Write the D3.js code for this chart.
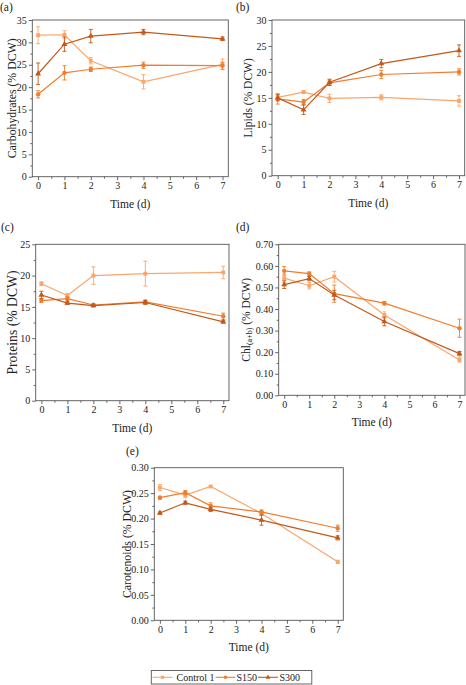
<!DOCTYPE html>
<html>
<head>
<meta charset="utf-8">
<script src="https://cdn.jsdelivr.net/npm/d3@7"></script>
<style>
  body { margin: 0; background: #fff; }
  svg, svg text { font-family: "Times New Roman", "Liberation Serif", Times, "DejaVu Serif", serif !important; }
</style>
</head>
<body>
<script>
// Sampling days (x) shared by all panels
const days = [0, 1, 2, 4, 7];
const seriesNames = ["Control 1", "S150", "S300"];

// (a) Carbohydrates (% DCW): means and error bars
const carbControl = [31.6, 31.7, 25.9, 21.2, 25.1];
const carbControlErr = [1.9, 0.9, 0.7, 1.6, 1.2];
const carbS150 = [18.4, 23.2, 24.0, 24.9, 24.8];
const carbS150Err = [0.8, 1.6, 0.5, 0.7, 0.8];
const carbS300 = [23.0, 29.6, 31.4, 32.3, 30.8];
const carbS300Err = [2.4, 1.6, 1.5, 0.6, 0.4];

// (b) Lipids (% DCW)
const lipControl = [15.1, 16.1, 14.9, 15.1, 14.4];
const lipControlErr = [0.5, 0.2, 0.8, 0.5, 1.0];
const lipS150 = [14.8, 14.2, 17.9, 19.5, 20.0];
const lipS150Err = [1.0, 0.5, 0.5, 0.8, 0.6];
const lipS300 = [15.0, 12.7, 18.0, 21.6, 24.1];
const lipS300Err = [0.6, 0.9, 0.6, 0.8, 1.1];

// (c) Proteins (% DCW)
const protControl = [18.7, 16.8, 20.0, 20.3, 20.5];
const protControlErr = [0.3, 0.3, 1.4, 2.0, 1.0];
const protS150 = [16.0, 16.3, 15.3, 15.8, 13.5];
const protS150Err = [0.3, 0.3, 0.2, 0.3, 0.5];
const protS300 = [16.9, 15.6, 15.2, 15.7, 12.6];
const protS300Err = [0.6, 0.2, 0.2, 0.3, 0.2];

// (d) Chl(a+b) (% DCW)
const chlControl = [0.543, 0.508, 0.550, 0.372, 0.164];
const chlControlErr = [0.02, 0.015, 0.025, 0.015, 0.01];
const chlS150 = [0.577, 0.564, 0.471, 0.427, 0.311];
const chlS150Err = [0.02, 0.008, 0.04, 0.008, 0.042];
const chlS300 = [0.513, 0.541, 0.465, 0.342, 0.193];
const chlS300Err = [0.018, 0.01, 0.022, 0.02, 0.01];

// (e) Carotenoids (% DCW)
const carControl = [0.261, 0.246, 0.263, 0.210, 0.115];
const carControlErr = [0.006, 0.005, 0.002, 0.004, 0.003];
const carS150 = [0.241, 0.251, 0.225, 0.213, 0.181];
const carS150Err = [0.003, 0.004, 0.006, 0.004, 0.006];
const carS300 = [0.211, 0.231, 0.218, 0.197, 0.162];
const carS300Err = [0.002, 0.003, 0.004, 0.01, 0.004];

const colors = ["#f9a66c", "#f07d2c", "#c2591b"];
const shapes = [d3.symbolSquare, d3.symbolCircle, d3.symbolTriangle];
const axisColor = "#555";
const serif = "'Times New Roman', 'Liberation Serif', Times, serif";

const panels = [
  { tag: "(a)", ylab: "Carbohydrates (% DCW)", ymax: 35, step: 5, fmt: "d", fs: 11.8,
    box: [32.3, 228.3, 20, 176.7], ytitleX: 12, labelPos: [0, 11],
    means: [carbControl, carbS150, carbS300], errs: [carbControlErr, carbS150Err, carbS300Err] },
  { tag: "(b)", ylab: "Lipids (% DCW)", ymax: 30, step: 5, fmt: "d", fs: 11.5,
    box: [272, 464.7, 20, 175.7], ytitleX: 248, labelPos: [236, 11],
    means: [lipControl, lipS150, lipS300], errs: [lipControlErr, lipS150Err, lipS300Err] },
  { tag: "(c)", ylab: "Proteins (% DCW)", ymax: 25, step: 5, fmt: "d", fs: 13.7,
    box: [35.7, 229, 244.3, 400.7], ytitleX: 12.5, labelPos: [1, 231],
    means: [protControl, protS150, protS300], errs: [protControlErr, protS150Err, protS300Err] },
  { tag: "(d)", ylab: "chl", ymax: 0.7, step: 0.1, fmt: ".2f", fs: 11.5,
    box: [278.7, 465, 244.3, 395.3], ytitleX: 246, labelPos: [236, 231],
    means: [chlControl, chlS150, chlS300], errs: [chlControlErr, chlS150Err, chlS300Err] },
  { tag: "(e)", ylab: "Carotenoids (% DCW)", ymax: 0.3, step: 0.05, fmt: ".2f", fs: 11.8,
    box: [154.3, 343.3, 467.7, 620.3], ytitleX: 127, labelPos: [126, 455],
    means: [carControl, carS150, carS300], errs: [carControlErr, carS150Err, carS300Err] }
];

const svg = d3.select("body").append("svg")
  .attr("width", 466)
  .attr("height", 685)
  .attr("font-family", serif);

panels.forEach(p => {
  const [x0, x1, y0, y1] = p.box;
  const x = d3.scaleLinear().domain([-0.22, 7.22]).range([x0, x1]);
  const y = d3.scaleLinear().domain([0, p.ymax]).range([y1, y0]);
  const g = svg.append("g");

  // frame
  g.append("rect")
    .attr("x", x0).attr("y", y0)
    .attr("width", x1 - x0).attr("height", y1 - y0)
    .attr("fill", "none").attr("stroke", axisColor).attr("stroke-width", 0.9);

  // x axis: major + minor ticks
  const xMinor = d3.range(0, 7.01, 0.5).filter(v => v % 1 !== 0);
  g.append("g").attr("transform", `translate(0,${y1})`)
    .call(d3.axisBottom(x).tickValues(xMinor).tickSize(2).tickFormat(""))
    .call(a => a.select(".domain").remove());
  g.append("g").attr("transform", `translate(0,${y1})`)
    .call(d3.axisBottom(x).tickValues(d3.range(0, 8)).tickSize(3.5).tickPadding(2).tickFormat(d3.format("d")))
    .call(a => a.select(".domain").remove())
    .call(a => a.attr("font-family", serif))
    .call(a => a.selectAll("text").attr("font-size", 10).attr("fill", "#222"));

  // y axis
  const nMaj = Math.round(p.ymax / p.step);
  const yMajor = d3.range(0, nMaj + 1).map(i => i * p.step);
  const yMinor = d3.range(0, nMaj).map(i => (i + 0.5) * p.step);
  g.append("g").attr("transform", `translate(${x0},0)`)
    .call(d3.axisLeft(y).tickValues(yMinor).tickSize(2).tickFormat(""))
    .call(a => a.select(".domain").remove());
  g.append("g").attr("transform", `translate(${x0},0)`)
    .call(d3.axisLeft(y).tickValues(yMajor).tickSize(3.5).tickPadding(2).tickFormat(d3.format(p.fmt)))
    .call(a => a.select(".domain").remove())
    .call(a => a.attr("font-family", serif))
    .call(a => a.selectAll("text").attr("font-size", 10).attr("fill", "#222"));
  g.selectAll(".tick line").attr("stroke", axisColor).attr("stroke-width", 0.9);

  // axis titles
  g.append("text")
    .attr("x", (x0 + x1) / 2).attr("y", y1 + 31)
    .attr("text-anchor", "middle").attr("font-size", 11.5).attr("fill", "#222")
    .text("Time (d)");

  const yt = g.append("text")
    .attr("transform", `translate(${p.ytitleX},${(y0 + y1) / 2}) rotate(-90)`)
    .attr("text-anchor", "middle").attr("dominant-baseline", "central")
    .attr("font-size", p.fs).attr("fill", "#222");
  if (p.ylab === "chl") {
    yt.append("tspan").text("Chl");
    yt.append("tspan").attr("font-size", 8).attr("dy", 3).text("(a+b)");
    yt.append("tspan").attr("dy", -3).text(" (% DCW)");
  } else {
    yt.text(p.ylab);
  }

  // panel tag
  g.append("text")
    .attr("x", p.labelPos[0]).attr("y", p.labelPos[1])
    .attr("font-size", 11.5).attr("fill", "#222")
    .text(p.tag);

  // series
  p.means.forEach((vals, s) => {
    const pts = days.map((d, i) => ({ d, v: vals[i], e: p.errs[s][i] }));
    const sg = g.append("g").attr("stroke", colors[s]).attr("fill", colors[s]);
    sg.append("path")
      .datum(pts)
      .attr("fill", "none").attr("stroke-width", 1.2)
      .attr("d", d3.line().x(q => x(q.d)).y(q => y(q.v)));
    const eb = sg.selectAll("g.eb").data(pts).join("g").attr("stroke-width", 0.9);
    eb.append("line")
      .attr("x1", q => x(q.d)).attr("x2", q => x(q.d))
      .attr("y1", q => y(q.v - q.e)).attr("y2", q => y(q.v + q.e));
    [-1, 1].forEach(sign => {
      eb.append("line")
        .attr("x1", q => x(q.d) - 2).attr("x2", q => x(q.d) + 2)
        .attr("y1", q => y(q.v + sign * q.e)).attr("y2", q => y(q.v + sign * q.e));
    });
    sg.selectAll("path.mk").data(pts).join("path")
      .attr("class", "mk").attr("stroke", "none")
      .attr("transform", q => `translate(${x(q.d)},${y(q.v)})`)
      .attr("d", d3.symbol().type(shapes[s]).size(15));
  });
});

// legend
const lg = svg.append("g");
lg.append("rect")
  .attr("x", 151.3).attr("y", 670.5).attr("width", 160.5).attr("height", 13.5)
  .attr("fill", "none").attr("stroke", axisColor).attr("stroke-width", 0.9);
const legendItems = [
  { x: 152.5, w: 20, tx: 176.5 },
  { x: 215.5, w: 20, tx: 236.5 },
  { x: 258, w: 20, tx: 279.5 }
];
seriesNames.forEach((name, s) => {
  const it = legendItems[s];
  const cy = 677.3;
  lg.append("line")
    .attr("x1", it.x).attr("x2", it.x + it.w).attr("y1", cy).attr("y2", cy)
    .attr("stroke", colors[s]).attr("stroke-width", 1.1);
  lg.append("path")
    .attr("transform", `translate(${it.x + it.w / 2},${cy})`)
    .attr("d", d3.symbol().type(shapes[s]).size(10))
    .attr("fill", colors[s]);
  lg.append("text")
    .attr("x", it.tx).attr("y", cy).attr("dy", "0.35em")
    .attr("font-size", 10).attr("fill", "#222")
    .text(name);
});
</script>
</body>
</html>
